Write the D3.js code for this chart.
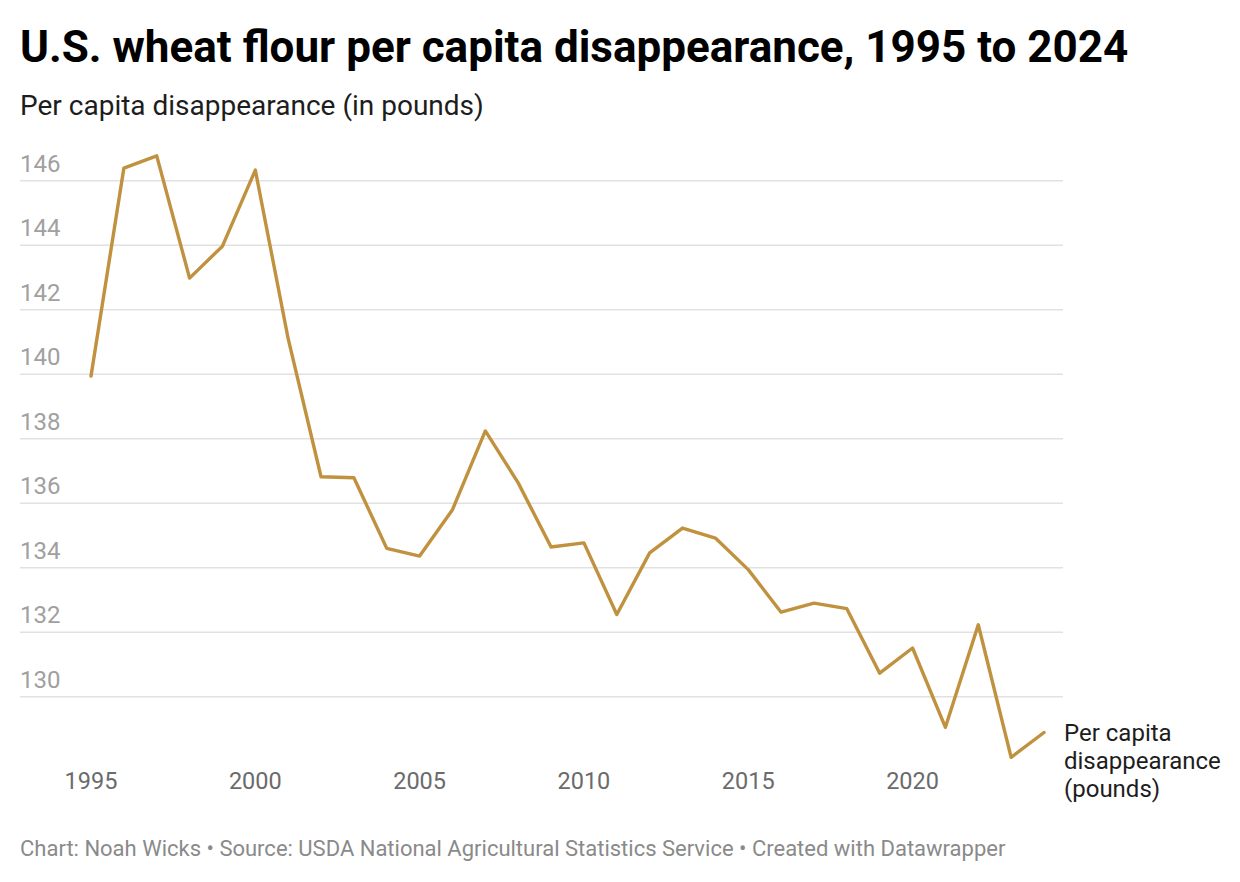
<!DOCTYPE html>
<html><head><meta charset="utf-8">
<script src="https://cdn.jsdelivr.net/npm/d3@7"></script>
<style>
body{margin:0;background:#fff;font-family:Roboto,"Noto Sans",sans-serif;}
svg{display:block}
</style></head>
<body><svg id="c" width="1240" height="882"></svg>
<script>
const years = [1995,1996,1997,1998,1999,2000,2001,2002,2003,2004,2005,2006,2007,2008,2009,2010,2011,2012,2013,2014,2015,2016,2017,2018,2019,2020,2021,2022,2023,2024];
const values = [139.94,146.39,146.77,142.98,143.97,146.33,141.1,136.82,136.79,134.6,134.36,135.8,138.24,136.63,134.64,134.77,132.55,134.46,135.23,134.92,133.94,132.62,132.9,132.73,130.73,131.51,129.05,132.23,128.12,128.89];
const yTicks = [130,132,134,136,138,140,142,144,146];
const xTicks = [1995,2000,2005,2010,2015,2020];
const title = "U.S. wheat flour per capita disappearance, 1995 to 2024";
const subtitle = "Per capita disappearance (in pounds)";
const seriesLabel = ["Per capita","disappearance","(pounds)"];
const footer = "Chart: Noah Wicks • Source: USDA National Agricultural Statistics Service • Created with Datawrapper";

const svg = d3.select("#c");
const x = d3.scaleLinear().domain([1995,2024]).range([91,1044]);
const y = d3.scaleLinear().domain([130,146]).range([696.7,180.7]);
const gridX0 = 20, gridX1 = 1063;

svg.append("text").attr("x",20).attr("y",62).attr("font-size",44).attr("font-weight",700).attr("fill","#000").text(title);
svg.append("text").attr("x",20).attr("y",115).attr("font-size",28).attr("fill","#1d1d1d").text(subtitle);

const g = svg.append("g");
g.selectAll("line.grid").data(yTicks).join("line").attr("class","grid")
 .attr("x1",gridX0).attr("x2",gridX1).attr("y1",d=>y(d)).attr("y2",d=>y(d))
 .attr("stroke","#e1e1e1").attr("stroke-width",1.5);
g.selectAll("text.yt").data(yTicks).join("text").attr("class","yt")
 .attr("x",20).attr("y",d=>y(d)-9).attr("font-size",24).attr("fill","#a0a0a0").text(d=>d);

g.selectAll("text.xt").data(xTicks).join("text").attr("class","xt")
 .attr("x",d=>x(d)).attr("y",789).attr("text-anchor","middle").attr("font-size",23.5).attr("fill","#6b6b6b").text(d=>d);

const line = d3.line().x((d,i)=>x(years[i])).y(d=>y(d));
g.append("path").datum(values).attr("d",line).attr("fill","none")
 .attr("stroke","#c0913e").attr("stroke-width",3.4).attr("stroke-linejoin","round").attr("stroke-linecap","round");

const last = values[values.length-1];
const lab = g.append("text").attr("x",x(2024)+20).attr("y",y(last)+9).attr("font-size",24).attr("fill","#1d1d1d");
seriesLabel.forEach((t,i)=>lab.append("tspan").attr("x",x(2024)+20).attr("dy",i===0?0:28).text(t));

svg.append("text").attr("x",20).attr("y",856).attr("font-size",22).attr("fill","#8a8a8a").text(footer);
</script></body></html>
